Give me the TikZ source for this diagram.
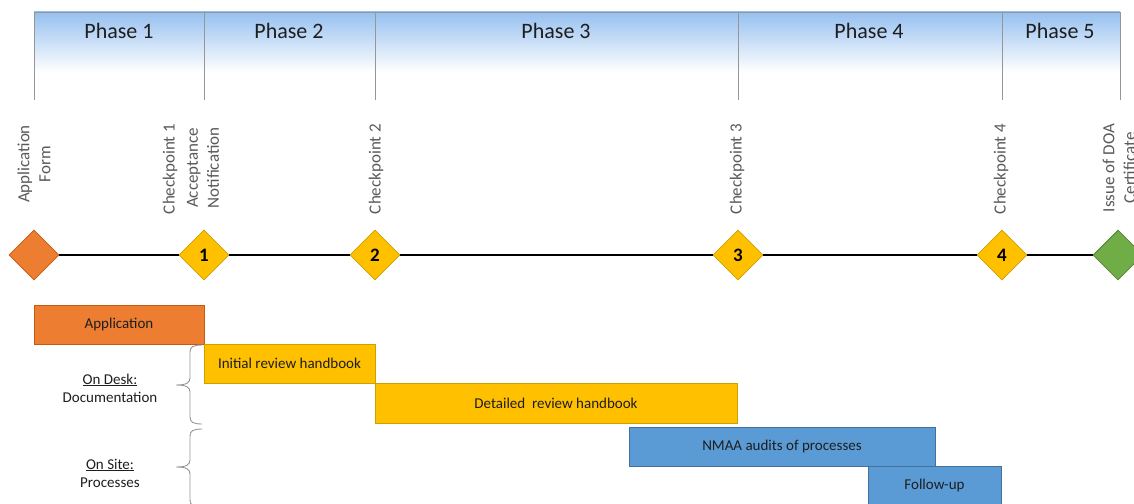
\documentclass[tikz,border=0pt]{standalone}
\usepackage{fontspec}
\setmainfont{Carlito}
\usetikzlibrary{shapes.geometric}
\definecolor{phaseblue}{RGB}{150,192,240}
\definecolor{divgray}{RGB}{150,150,150}
\definecolor{labgray}{RGB}{89,89,89}
\definecolor{txt}{RGB}{30,30,30}
\definecolor{orangeF}{RGB}{237,125,49}
\definecolor{orangeB}{RGB}{197,90,17}
\definecolor{yellowF}{RGB}{255,192,0}
\definecolor{yellowB}{RGB}{204,160,0}
\definecolor{blueF}{RGB}{91,155,213}
\definecolor{blueB}{RGB}{65,113,156}
\definecolor{greenF}{RGB}{112,173,71}
\definecolor{greenB}{RGB}{84,130,53}
\tikzset{
  phaselabel/.style={font=\fontsize{22}{26}\selectfont, text=txt},
  vlabel/.style={rotate=90, align=center, text=labgray, font=\fontsize{17}{21}\selectfont, inner sep=0pt},
  milestone/.style={diamond, minimum width=50pt, minimum height=50pt, aspect=1, inner sep=0pt, line width=0.8pt, font=\fontsize{19}{22}\selectfont\bfseries, text=black},
  bar/.style={rectangle, anchor=north west, inner sep=0pt, outer sep=0pt, line width=0.8pt, font=\fontsize{15}{18}\selectfont, text=txt},
  sidelabel/.style={align=center, font=\fontsize{15}{18}\selectfont, text=txt},
  brace/.style={draw=divgray, line width=0.9pt},
  divider/.style={draw=divgray, line width=0.8pt}
}
\begin{document}
\begin{tikzpicture}[x=1pt,y=-1pt]
\useasboundingbox (0,0) rectangle (1134,503);
\clip (0,0) rectangle (1134,503);
% phase header
\shade[top color=phaseblue, bottom color=white] (34,12) rectangle (1120,72);
\draw[divider] (34,100) -- (34,12) -- (1120,12) -- (1120,100);
\foreach \x in {204,375,738,1002} \draw[divider] (\x,12) -- (\x,100);
\node[phaselabel] (ph1) at (119,31) {Phase 1};
\node[phaselabel] (ph2) at (289,31) {Phase 2};
\node[phaselabel] (ph3) at (556,31) {Phase 3};
\node[phaselabel] (ph4) at (869,31) {Phase 4};
\node[phaselabel] (ph5) at (1060,31) {Phase 5};
% vertical labels
\node[vlabel] (lapp) at (34,164) {Application\\Form};
\node[vlabel] (lc1) at (170,169) {Checkpoint 1};
\node[vlabel] (lacc) at (203,168) {Acceptance\\Notification};
\node[vlabel] (lc2) at (376,169) {Checkpoint 2};
\node[vlabel] (lc3) at (737,169) {Checkpoint 3};
\node[vlabel] (lc4) at (1001,169) {Checkpoint 4};
\node[vlabel] (ldoa) at (1119,168) {Issue of DOA\\Certificate};
% milestones
\node[milestone, fill=orangeF, draw=orangeB] (d0) at (34,255) {};
\node[milestone, fill=yellowF, draw=yellowB] (d1) at (204,255) {1};
\node[milestone, fill=yellowF, draw=yellowB] (d2) at (375,255) {2};
\node[milestone, fill=yellowF, draw=yellowB] (d3) at (738,255) {3};
\node[milestone, fill=yellowF, draw=yellowB] (d4) at (1002,255) {4};
\node[milestone, fill=greenF, draw=greenB] (d5) at (1118,255) {};
\draw[line width=1.6pt, black] (d0) -- (d1);
\draw[line width=1.6pt, black] (d1) -- (d2);
\draw[line width=1.6pt, black] (d2) -- (d3);
\draw[line width=1.6pt, black] (d3) -- (d4);
\draw[line width=1.6pt, black] (d4) -- (d5);
% bars
\node[bar, fill=orangeF, draw=orangeB, minimum width=170pt, minimum height=39pt] (b1) at (34,305) {Application};
\node[bar, fill=yellowF, draw=yellowB, minimum width=171pt, minimum height=39pt] (b2) at (204,344) {Initial review handbook};
\node[bar, fill=yellowF, draw=yellowB, minimum width=362pt, minimum height=40pt] (b3) at (375,383) {Detailed\ \ review handbook};
\node[bar, fill=blueF, draw=blueB, minimum width=306pt, minimum height=39pt] (b4) at (629,427) {NMAA audits of processes};
\node[bar, fill=blueF, draw=blueB, minimum width=133pt, minimum height=39pt] (b5) at (868,466) {Follow-up};
% side labels
\node[sidelabel] (desk) at (110,388) {\underline{On Desk:}\\Documentation};
\node[sidelabel] (site) at (110,473) {\underline{On Site:}\\Processes};
% braces
\draw[brace] (202,345) .. controls (193,345) and (190,347) .. (190,352) -- (190,378)
  .. controls (190,383) and (186,385) .. (176,385)
  .. controls (186,385) and (190,387) .. (190,392) -- (190,417)
  .. controls (190,422) and (193,424) .. (202,424);
\draw[brace] (202,429) .. controls (193,429) and (190,431) .. (190,436) -- (190,460)
  .. controls (190,465) and (186,467) .. (176,467)
  .. controls (186,467) and (190,469) .. (190,474) -- (190,500)
  .. controls (190,505) and (193,507) .. (202,507);
\end{tikzpicture}
\end{document}
